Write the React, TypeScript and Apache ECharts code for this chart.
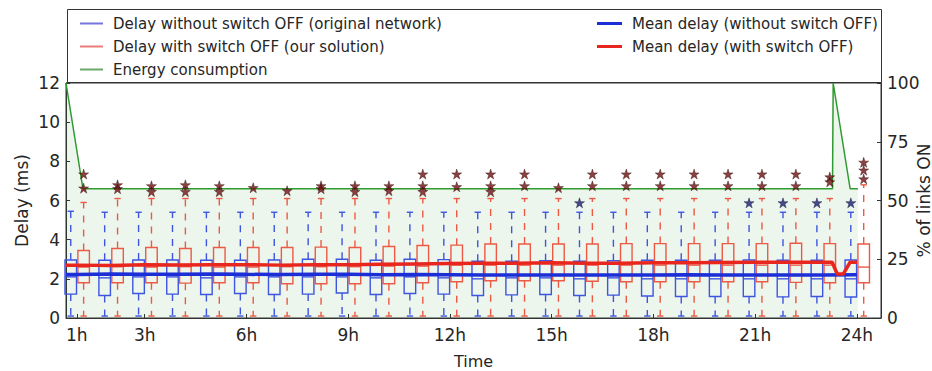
import React, { useEffect, useRef } from "react";
import * as echarts from "echarts";

// ---------- data ----------
const hours = [1, 2, 3, 4, 5, 6, 7, 8, 9, 10, 11, 12, 13, 14, 15, 16, 17, 18, 19, 20, 21, 22, 23, 24];
const xTickHours = [1, 3, 6, 9, 12, 15, 18, 21, 24];

// Delay without switch OFF (blue boxes)
const blueLow = [0.1, 0.1, 0.1, 0.1, 0.1, 0.1, 0.1, 0.1, 0.1, 0.1, 0.1, 0.1, 0.1, 0.1, 0.1, 0.1, 0.1, 0.1, 0.1, 0.1, 0.1, 0.1, 0.1, 0.1];
const blueQ1 = [1.22, 1.15, 1.25, 1.22, 1.2, 1.25, 1.2, 1.22, 1.28, 1.2, 1.25, 1.22, 1.15, 1.18, 1.2, 1.15, 1.17, 1.12, 1.1, 1.1, 1.1, 1.08, 1.1, 1.07];
const blueMed = [2.1, 2.05, 2.1, 2.1, 2.05, 2.1, 2.1, 2.1, 2.1, 2.05, 2.1, 2.05, 2.0, 2.05, 2.05, 2.0, 2.05, 2.0, 2.0, 2.0, 2.0, 2.0, 2.0, 2.0];
const blueQ3 = [2.96, 2.95, 2.96, 2.96, 2.95, 2.95, 2.96, 3.0, 3.0, 2.95, 3.0, 2.98, 2.9, 2.9, 2.92, 2.9, 2.92, 2.95, 2.95, 2.95, 2.96, 2.95, 2.95, 2.96];
const blueHigh = [5.45, 5.4, 5.4, 5.4, 5.4, 5.4, 5.4, 5.4, 5.4, 5.4, 5.4, 5.4, 5.4, 5.4, 5.4, 5.4, 5.4, 5.4, 5.4, 5.4, 5.4, 5.4, 5.4, 5.4];
const blueFliers: [number, number][] = [[16, 5.88], [21, 5.88], [22, 5.88], [23, 5.88], [24, 5.88]];

// Delay with switch OFF (red boxes)
const redLow = [0.1, 0.1, 0.1, 0.1, 0.1, 0.1, 0.1, 0.1, 0.1, 0.1, 0.1, 0.1, 0.1, 0.1, 0.1, 0.1, 0.1, 0.1, 0.1, 0.1, 0.1, 0.1, 0.1, 0.1];
const redQ1 = [1.8, 1.8, 1.8, 1.78, 1.8, 1.8, 1.75, 1.75, 1.75, 1.75, 1.8, 1.85, 1.9, 1.9, 1.9, 1.88, 1.85, 1.85, 1.85, 1.85, 1.85, 1.82, 1.8, 1.8];
const redMed = [2.6, 2.62, 2.6, 2.62, 2.6, 2.6, 2.62, 2.62, 2.62, 2.65, 2.65, 2.7, 2.7, 2.7, 2.7, 2.7, 2.7, 2.7, 2.7, 2.7, 2.7, 2.7, 2.7, 2.6];
const redQ3 = [3.45, 3.55, 3.6, 3.55, 3.6, 3.6, 3.6, 3.62, 3.6, 3.65, 3.7, 3.72, 3.78, 3.78, 3.78, 3.78, 3.8, 3.8, 3.8, 3.8, 3.8, 3.82, 3.8, 3.78];
const redHigh = [5.9, 6.1, 6.1, 6.1, 6.1, 6.1, 6.1, 6.1, 6.1, 6.1, 6.1, 6.1, 6.1, 6.1, 6.1, 6.1, 6.1, 6.1, 6.1, 6.1, 6.1, 6.1, 6.1, 6.8];
const redFliers: [number, number][] = [
  [1, 7.35], [1, 6.63], [2, 6.8], [2, 6.6], [3, 6.75], [3, 6.45], [4, 6.8], [4, 6.45],
  [5, 6.75], [5, 6.45], [6, 6.65], [7, 6.5], [8, 6.75], [8, 6.6], [9, 6.75], [9, 6.45],
  [10, 6.75], [10, 6.5], [11, 7.35], [11, 6.75], [11, 6.45], [12, 7.35], [12, 6.7],
  [13, 7.35], [13, 6.75], [13, 6.45], [14, 7.35], [14, 6.75], [15, 6.65], [16, 7.35], [16, 6.75],
  [17, 7.35], [17, 6.75], [18, 7.35], [18, 6.75], [19, 7.35], [19, 6.75], [20, 7.35], [20, 6.75],
  [21, 7.35], [21, 6.75], [22, 7.35], [22, 6.75], [23, 7.2], [23, 6.95],
  [24, 7.95], [24, 7.55], [24, 7.1],
];

// Mean delays
const blueMeanTimes = [0.68, 1, 2, 3, 4, 5, 6, 7, 8, 9, 10, 11, 12, 13, 14, 15, 16, 17, 18, 19, 20, 21, 22, 23, 24];
const blueMeans = [2.22, 2.22, 2.25, 2.24, 2.24, 2.25, 2.23, 2.22, 2.24, 2.23, 2.21, 2.22, 2.21, 2.19, 2.2, 2.2, 2.19, 2.2, 2.2, 2.21, 2.19, 2.2, 2.2, 2.2, 2.21];
const redMeanTimes = [0.68, 1, 2, 3, 4, 5, 6, 7, 8, 9, 10, 11, 12, 13, 14, 15, 16, 17, 18, 19, 20, 21, 22, 23, 23.27, 23.42, 23.6, 23.8, 24];
const redMeans = [2.7, 2.7, 2.68, 2.72, 2.71, 2.72, 2.72, 2.7, 2.72, 2.72, 2.74, 2.76, 2.78, 2.8, 2.8, 2.82, 2.8, 2.8, 2.82, 2.82, 2.84, 2.85, 2.85, 2.85, 2.85, 2.25, 2.25, 2.85, 2.85];

// Energy consumption (% of links ON)
const energyTimes = [0.68, 1.18, 23.28, 23.3, 23.8, 24.03];
const energyPct = [100, 55, 55, 100, 55, 55];

// ---------- styling ----------
const FONT = "DejaVu Sans";
const TEXT = "#262626";
const BLUE_BOX = "#3d55e0";
const RED_BOX = "#ec5a45";
const BLUE_MEAN = "#1c2fd6";
const RED_MEAN = "#e8261d";
const GREEN = "#2f9a2f";
const BLUE_OFFSET = -0.18;
const RED_OFFSET = 0.2;
const BOX_WIDTH = 0.34;
const STAR = "path://M12,0 L14.7,8.3 L23.4,8.3 L16.4,13.4 L19.1,21.7 L12,16.6 L4.9,21.7 L7.6,13.4 L0.6,8.3 L9.3,8.3 Z";

const NAME_BLUE = "Delay without switch OFF (original network)";
const NAME_RED = "Delay with switch OFF (our solution)";
const NAME_ENERGY = "Energy consumption";
const NAME_BLUE_MEAN = "Mean delay (without switch OFF)";
const NAME_RED_MEAN = "Mean delay (with switch OFF)";

function makeBoxRenderer(color: string) {
  return (_params: any, api: any) => {
    const x = api.value(0);
    const low = api.coord([x, api.value(1)]);
    const q1 = api.coord([x, api.value(2)]);
    const med = api.coord([x, api.value(3)]);
    const q3 = api.coord([x, api.value(4)]);
    const high = api.coord([x, api.value(5)]);
    const half = api.size([BOX_WIDTH, 0], [x, 0])[0] / 2;
    const cap = half * 0.55;
    const cx = q1[0];
    const ls = { stroke: color, lineWidth: 1.4, fill: null };
    return {
      type: "group",
      children: [
        { type: "line", shape: { x1: cx, y1: q3[1], x2: cx, y2: high[1] }, style: { ...ls, lineDash: [7, 7] } },
        { type: "line", shape: { x1: cx, y1: q1[1], x2: cx, y2: low[1] }, style: { ...ls, lineDash: [7, 7] } },
        { type: "line", shape: { x1: cx - cap, y1: high[1], x2: cx + cap, y2: high[1] }, style: ls },
        { type: "line", shape: { x1: cx - cap, y1: low[1], x2: cx + cap, y2: low[1] }, style: ls },
        { type: "rect", shape: { x: cx - half, y: q3[1], width: 2 * half, height: q1[1] - q3[1] }, style: { stroke: color, lineWidth: 1.4, fill: "none" } },
        { type: "line", shape: { x1: cx - half, y1: med[1], x2: cx + half, y2: med[1] }, style: ls },
      ],
    };
  };
}

export default function App() {
  const ref = useRef<HTMLDivElement>(null);
  useEffect(() => {
    document.body.style.margin = "0";
    if (!ref.current) return;
    const chart = echarts.init(ref.current, undefined, { renderer: "svg" });

    const blueData = hours.map((h, i) => [h + BLUE_OFFSET, blueLow[i], blueQ1[i], blueMed[i], blueQ3[i], blueHigh[i]]);
    const redData = hours.map((h, i) => [h + RED_OFFSET, redLow[i], redQ1[i], redMed[i], redQ3[i], redHigh[i]]);

    const axisText = { color: TEXT, fontFamily: FONT, fontSize: 17 };

    chart.setOption({
      animation: false,
      textStyle: { fontFamily: FONT },
      grid: {
        left: 66, right: 51, top: 83, bottom: 53,
        outerBoundsMode: "none",
        containLabel: false,
        show: true, borderColor: "#333", borderWidth: 1, backgroundColor: "transparent",
      },
      legend: [
        {
          data: [
            { name: NAME_BLUE, itemStyle: { color: "#7575dc" } },
            { name: NAME_RED, itemStyle: { color: "#ec7a7a" } },
            { name: NAME_ENERGY, itemStyle: { color: "#6aa86a" } },
          ],
          orient: "vertical",
          left: 75,
          top: 11,
          icon: "rect",
          itemWidth: 23,
          itemHeight: 2,
          itemGap: 8,
          selectedMode: false,
          textStyle: { color: TEXT, fontFamily: FONT, fontSize: 15, lineHeight: 15, padding: [0, 0, 0, 5] },
        },
        {
          data: [
            { name: NAME_BLUE_MEAN, itemStyle: { color: BLUE_MEAN } },
            { name: NAME_RED_MEAN, itemStyle: { color: RED_MEAN } },
          ],
          orient: "vertical",
          left: 592,
          top: 11,
          icon: "rect",
          itemWidth: 25,
          itemHeight: 3,
          itemGap: 8,
          selectedMode: false,
          textStyle: { color: TEXT, fontFamily: FONT, fontSize: 15, lineHeight: 15, padding: [0, 0, 0, 5] },
        },
      ],
      graphic: [
        { type: "rect", shape: { x: 67.5, y: 9.5, width: 814, height: 73 }, style: { fill: "none", stroke: "#333", lineWidth: 1 } },
      ],
      xAxis: {
        type: "value",
        min: 0.68,
        max: 24.71,
        name: "Time",
        nameLocation: "middle",
        nameGap: 35,
        nameMoveOverlap: false,
        nameTextStyle: { ...axisText, fontSize: 16 },
        axisLine: { show: true, lineStyle: { color: "#333" } },
        axisTick: { show: true, inside: true, length: 4, customValues: xTickHours, lineStyle: { color: "#333" } },
        axisLabel: { ...axisText, margin: 8, customValues: xTickHours, formatter: (v: number) => `${v}h` },
        splitLine: { show: false },
      },
      yAxis: [
        {
          type: "value",
          min: 0,
          max: 12,
          interval: 2,
          name: "Delay (ms)",
          nameLocation: "middle",
          nameGap: 36,
          nameMoveOverlap: false,
          nameRotate: 90,
          nameTextStyle: axisText,
          axisLine: { show: true, lineStyle: { color: "#333" } },
          axisTick: { show: true, inside: true, length: 4, lineStyle: { color: "#333" } },
          axisLabel: { ...axisText, margin: 6 },
          splitLine: { show: false },
        },
        {
          type: "value",
          min: 0,
          max: 100,
          interval: 25,
          position: "right",
          name: "% of links ON",
          nameLocation: "middle",
          nameGap: 34,
          nameMoveOverlap: false,
          nameRotate: 90,
          nameTextStyle: axisText,
          axisLine: { show: true, lineStyle: { color: "#333" } },
          axisTick: { show: true, inside: true, length: 4, lineStyle: { color: "#333" } },
          axisLabel: { ...axisText, margin: 6 },
          splitLine: { show: false },
        },
      ],
      series: [
        {
          name: NAME_ENERGY,
          type: "line",
          yAxisIndex: 1,
          data: energyTimes.map((t, i) => [t, energyPct[i]]),
          symbol: "none",
          lineStyle: { color: GREEN, width: 1.5 },
          itemStyle: { color: GREEN },
          areaStyle: { color: "rgba(0,128,0,0.1)" },
          z: 1,
        },
        {
          name: NAME_BLUE,
          type: "custom",
          renderItem: makeBoxRenderer(BLUE_BOX),
          data: blueData,
          encode: { x: 0, y: [1, 2, 3, 4, 5] },
          itemStyle: { color: BLUE_BOX },
          z: 2,
        },
        {
          name: NAME_RED,
          type: "custom",
          renderItem: makeBoxRenderer(RED_BOX),
          data: redData,
          encode: { x: 0, y: [1, 2, 3, 4, 5] },
          itemStyle: { color: RED_BOX },
          z: 2,
        },
        {
          name: NAME_BLUE_MEAN,
          type: "line",
          data: blueMeanTimes.map((t, i) => [t, blueMeans[i]]),
          symbol: "none",
          lineStyle: { color: BLUE_MEAN, width: 3.5 },
          itemStyle: { color: BLUE_MEAN },
          z: 3,
        },
        {
          name: NAME_RED_MEAN,
          type: "line",
          data: redMeanTimes.map((t, i) => [t, redMeans[i]]),
          symbol: "none",
          lineStyle: { color: RED_MEAN, width: 3.5 },
          itemStyle: { color: RED_MEAN },
          z: 3,
        },
        {
          name: "blue outliers",
          type: "scatter",
          data: blueFliers.map(([h, v]) => [h + BLUE_OFFSET, v]),
          symbol: STAR,
          symbolSize: 10,
          itemStyle: { color: "#1a2070", borderColor: "#0a0a30", borderWidth: 0.5 },
          z: 4,
        },
        {
          name: "red outliers",
          type: "scatter",
          data: redFliers.map(([h, v]) => [h + RED_OFFSET, v]),
          symbol: STAR,
          symbolSize: 10,
          itemStyle: { color: "#6e1212", borderColor: "#300808", borderWidth: 0.5 },
          z: 4,
        },
      ],
    });
    return () => chart.dispose();
  }, []);
  return <div ref={ref} style={{ width: 932, height: 371 }} />;
}
